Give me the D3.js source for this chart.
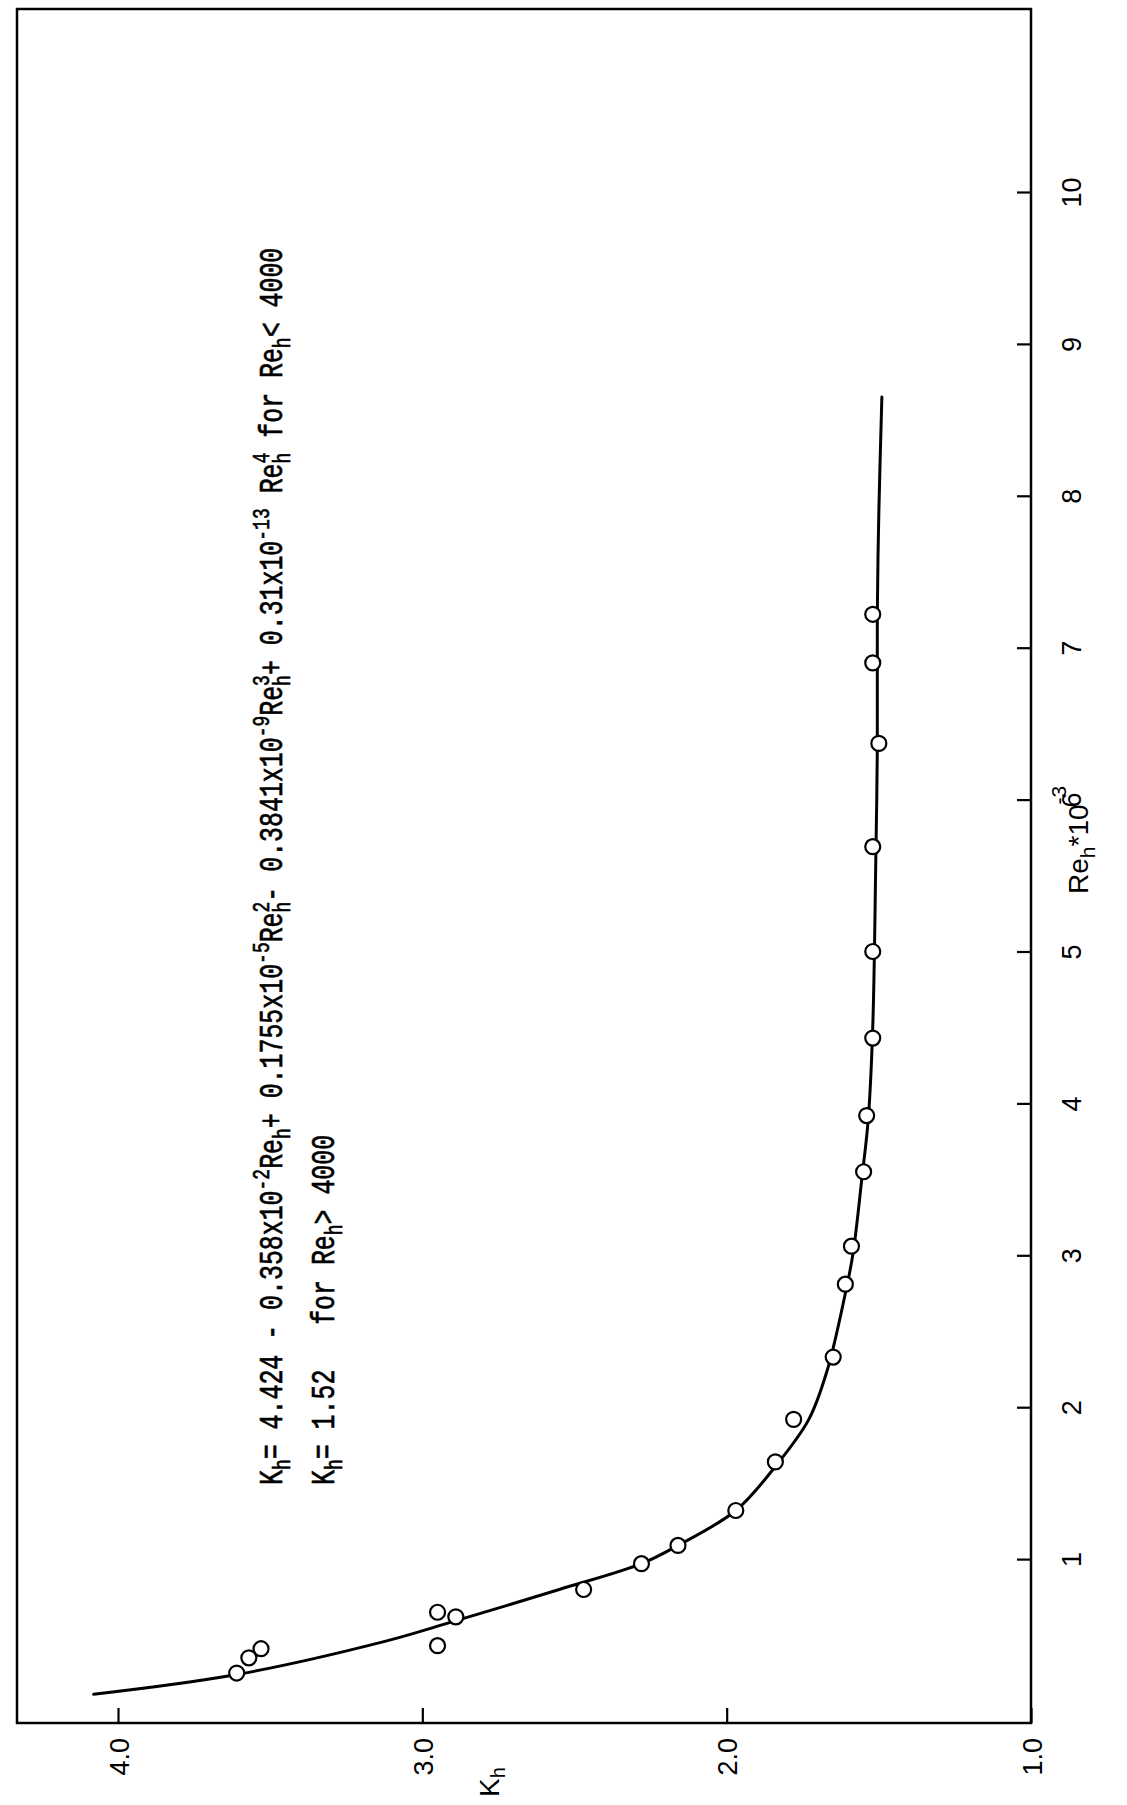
<!DOCTYPE html>
<html>
<head>
<meta charset="utf-8">
<script src="https://cdn.jsdelivr.net/npm/d3@7"></script>
<style>
  body { margin: 0; background: #fff; }
  svg  { display: block; }
  .axis text   { font-family: "Liberation Sans", Arial, sans-serif; font-size: 27px; fill: #000; }
  .axis line   { stroke: #000; stroke-width: 2.2; }
  .title       { font-family: "Liberation Sans", Arial, sans-serif; font-size: 28px; }
  .formula     { font-family: "Liberation Mono", "DejaVu Sans Mono", monospace; font-size: 24.9px;
                 stroke: #000; stroke-width: 0.5; white-space: pre; }
</style>
</head>
<body>
<svg id="chart" width="1127" height="1805"></svg>
<script>

const reTicks   = [1, 2, 3, 4, 5, 6, 7, 8, 9, 10];
const kTicks    = [4.0, 3.0, 2.0, 1.0];

// measured points: Re_h * 10^-3 and K_h
const pointRe   = [0.25, 0.35, 0.41, 0.43, 0.65, 0.62, 0.80, 0.97, 1.09, 1.32, 1.64, 1.92,
                   2.33, 2.81, 3.06, 3.55, 3.92, 4.43, 5.00, 5.69, 6.37, 6.90, 7.22];
const pointK    = [3.61, 3.57, 3.53, 2.95, 2.95, 2.89, 2.47, 2.28, 2.16, 1.97, 1.84, 1.78,
                   1.65, 1.61, 1.59, 1.55, 1.54, 1.52, 1.52, 1.52, 1.50, 1.52, 1.52];

// fitted curve
const curveRe   = [0.11, 0.24, 0.46, 0.57, 0.80, 0.97, 1.09, 1.32, 1.61, 1.92, 2.24,
                   2.75, 3.01, 3.52, 3.89, 4.50, 5.60, 6.34, 7.22, 7.89, 8.65];
const curveK    = [4.08, 3.61, 3.12, 2.93, 2.55, 2.28, 2.16, 1.97, 1.84, 1.73, 1.67,
                   1.61, 1.585, 1.555, 1.535, 1.52, 1.51, 1.505, 1.505, 1.50, 1.49];

const line1 = [
  ['K', 'n'], ['h', 'sub'], ['= 4.424 - 0.358x10', 'n'], ['-2', 'sup'],
  ['Re', 'n'], ['h', 'sub'], ['+ 0.1755x10', 'n'], ['-5', 'sup'],
  ['Re', 'n'], ['h', 'sub'], ['2', 'over'], ['- 0.3841x10', 'n'], ['-9', 'sup'],
  ['Re', 'n'], ['h', 'sub'], ['3', 'over'], ['+ 0.31x10', 'n'], ['-13', 'sup'],
  [' Re', 'n'], ['h', 'sub'], ['4', 'over'], [' for Re', 'n'], ['h', 'sub'], ['< 4000', 'n']
];
const line2 = [
  ['K', 'n'], ['h', 'sub'], ['= 1.52   for Re', 'n'], ['h', 'sub'], ['> 4000', 'n']
];


const svg = d3.select('#chart');

// K_h runs left to right along the bottom, Re_h up the right side
const kScale  = d3.scaleLinear().domain([4, 1]).range([118, 1031]);
const reScale = d3.scaleLinear().domain([0, 10]).range([1711, 192]);

const frame = { left: 17, top: 9, right: 1031, bottom: 1723 };

svg.append('rect')
    .attr('x', frame.left)
    .attr('y', frame.top)
    .attr('width', frame.right - frame.left)
    .attr('height', frame.bottom - frame.top)
    .attr('fill', 'none')
    .attr('stroke', '#000')
    .attr('stroke-width', 2.5);

// Re axis (right)
const reAxisG = svg.append('g')
    .attr('class', 'axis')
    .attr('transform', `translate(${frame.right},0)`)
    .call(d3.axisRight(reScale).tickValues(reTicks).tickSize(-14).tickFormat(d3.format('d')));
reAxisG.select('.domain').remove();
reAxisG.selectAll('text')
    .attr('x', 0)
    .attr('dy', null)
    .attr('text-anchor', 'middle')
    .attr('transform', 'translate(50,0) rotate(-90)');

// K axis (bottom)
const kAxisG = svg.append('g')
    .attr('class', 'axis')
    .attr('transform', `translate(0,${frame.bottom})`)
    .call(d3.axisBottom(kScale).tickValues(kTicks).tickSize(-15).tickFormat(d3.format('.1f')));
kAxisG.select('.domain').remove();
kAxisG.selectAll('text')
    .attr('y', 0)
    .attr('dy', null)
    .attr('text-anchor', 'end')
    .attr('transform', 'translate(10,15) rotate(-90)');

// axis titles
const kTitle = svg.append('text')
    .attr('class', 'title')
    .attr('font-size', '27px')
    .attr('text-anchor', 'middle')
    .attr('transform', 'translate(499,1782) rotate(-90)');
kTitle.append('tspan').text('K');
kTitle.append('tspan').attr('font-size', '20px').attr('dy', 6).text('h');

const reTitle = svg.append('text')
    .attr('class', 'title')
    .attr('transform', 'translate(1088,894) rotate(-90)');
reTitle.append('tspan').text('Re');
reTitle.append('tspan').attr('font-size', '21px').attr('dy', 7).text('h');
reTitle.append('tspan').attr('dy', -7).text('*10');
reTitle.append('tspan').attr('font-size', '21px').attr('dy', -22).text('-3');

// fitted curve
const line = d3.line()
    .x((d, i) => kScale(curveK[i]))
    .y((d, i) => reScale(curveRe[i]))
    .curve(d3.curveCatmullRom.alpha(0.5));

svg.append('path')
    .datum(curveRe)
    .attr('d', line)
    .attr('fill', 'none')
    .attr('stroke', '#000')
    .attr('stroke-width', 3)
    .attr('stroke-linecap', 'round');

svg.append('g')
  .selectAll('circle')
  .data(pointRe)
  .join('circle')
    .attr('cx', (d, i) => kScale(pointK[i]))
    .attr('cy', d => reScale(d))
    .attr('r', 7.5)
    .attr('fill', '#fff')
    .attr('stroke', '#000')
    .attr('stroke-width', 2.2);

// formula lines, rotated to read bottom to top, glyphs stretched tall
function formula(pieces, x, y) {
  const t = svg.append('text')
      .attr('class', 'formula')
      .attr('transform', `translate(${x},${y}) rotate(-90) scale(1,1.3)`);

  const small = 18;
  const smallAdv = small * 0.6;
  let shift = 0;

  pieces.forEach(([str, kind]) => {
    const ts = t.append('tspan').text(str);
    let target = 0;
    if (kind === 'sub') { target = 6; ts.attr('font-size', small + 'px'); }
    if (kind === 'sup') { target = -10; ts.attr('font-size', small + 'px'); }
    if (kind === 'over') {
      target = -10;
      ts.attr('font-size', small + 'px').attr('dx', -smallAdv);
    }
    ts.attr('dy', target - shift);
    shift = target;
  });
}

formula(line1, 282, 1485);
formula(line2, 334, 1485);

</script>
</body>
</html>
